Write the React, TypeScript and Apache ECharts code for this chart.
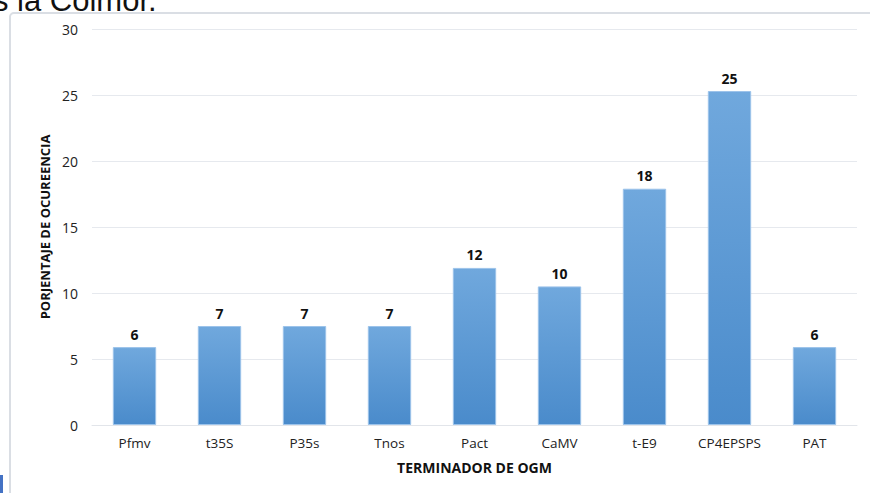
import React, { useEffect, useRef } from "react";
import * as echarts from "echarts";

const categories = ["Pfmv", "t35S", "P35s", "Tnos", "Pact", "CaMV", "t-E9", "CP4EPSPS", "PAT"];
const values = [5.9, 7.5, 7.5, 7.5, 11.9, 10.5, 17.9, 25.3, 5.9];
const barLabels = ["6", "7", "7", "7", "12", "10", "18", "25", "6"];
const yAxisTitle = "PORJENTAJE DE OCUREENCIA";
const xAxisTitle = "TERMINADOR DE OGM";
const topText = "s la Colmor.";

const FONT = "'Open Sans', 'Noto Sans', sans-serif";

export default function App() {
  const ref = useRef<HTMLDivElement>(null);
  useEffect(() => {
    if (!ref.current) return;
    const chart = echarts.init(ref.current, undefined, { renderer: "svg" });
    chart.setOption({
      animation: false,
      backgroundColor: "#ffffff",
      graphic: [
        {
          type: "rect",
          shape: { x: 10, y: 13, width: 900, height: 520, r: 4 },
          style: { fill: "none", stroke: "#dadee4", lineWidth: 2 },
          silent: true,
          z: 0,
        },
        {
          type: "text",
          x: -7,
          y: -15,
          style: {
            text: topText,
            font: "31px 'Liberation Sans', Arial, sans-serif",
            fill: "#111111",
            verticalAlign: "top",
          },
          z: 10,
        },
        {
          type: "rect",
          shape: { x: 0, y: 475, width: 3, height: 18 },
          style: { fill: "#4472c4" },
          silent: true,
        },
      ],
      grid: { left: 92, right: 13, top: 29, bottom: 68, containLabel: false },
      xAxis: {
        type: "category",
        data: categories,
        name: xAxisTitle,
        nameLocation: "middle",
        nameGap: 35,
        nameTextStyle: { fontFamily: FONT, fontSize: 14, fontWeight: "bold", color: "#111" },
        axisLine: { show: true, lineStyle: { color: "#e2e5ea", width: 1 } },
        axisTick: { show: false },
        axisLabel: { margin: 11, fontFamily: FONT, fontSize: 13.5, color: "#222" },
      },
      yAxis: {
        type: "value",
        min: 0,
        max: 30,
        interval: 5,
        name: yAxisTitle,
        nameLocation: "middle",
        nameGap: 38,
        nameRotate: 90,
        nameTextStyle: { fontFamily: FONT, fontSize: 13, fontWeight: "bold", color: "#111" },
        axisLine: { show: false },
        axisTick: { show: false },
        axisLabel: { margin: 14, fontFamily: FONT, fontSize: 14, color: "#222" },
        splitLine: { lineStyle: { color: "#e6e9ee", width: 1 } },
      },
      series: [
        {
          type: "bar",
          data: values,
          barCategoryGap: "49%",
          itemStyle: {
            color: new echarts.graphic.LinearGradient(0, 0, 0, 1, [
              { offset: 0, color: "#70a8dd" },
              { offset: 1, color: "#4a8bcb" },
            ]),
            borderColor: "#9cc3ea",
            borderWidth: 1,
          },
          label: {
            show: true,
            position: "top",
            distance: 6,
            fontFamily: FONT,
            fontSize: 14,
            fontWeight: "bold",
            color: "#111",
            formatter: (p: any) => barLabels[p.dataIndex],
          },
        },
      ],
    });
    return () => chart.dispose();
  }, []);
  return <div ref={ref} style={{ width: 870, height: 493, position: "fixed", left: 0, top: 0 }} />;
}
